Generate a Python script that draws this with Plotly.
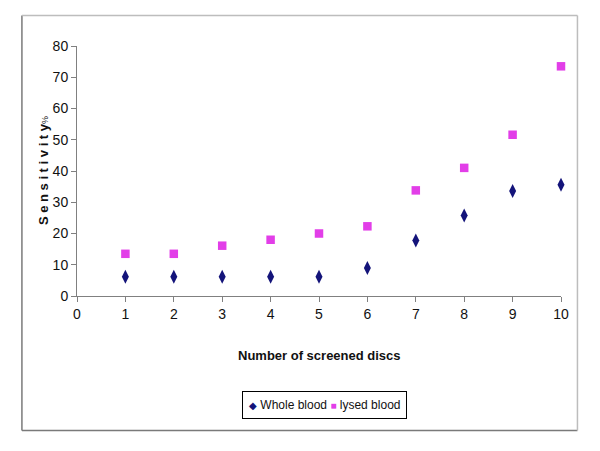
import plotly.graph_objects as go

discs = [1, 2, 3, 4, 5, 6, 7, 8, 9, 10]
whole_blood = [6.2, 6.2, 6.2, 6.2, 6.2, 9.0, 17.8, 25.8, 33.6, 35.6]
lysed_blood = [13.5, 13.5, 16.1, 18.0, 20.0, 22.3, 33.8, 41.0, 51.6, 73.5]
x_ticks = [0, 1, 2, 3, 4, 5, 6, 7, 8, 9, 10]
y_ticks = [0, 10, 20, 30, 40, 50, 60, 70, 80]

FONT = "Liberation Sans, Arial"
NAVY = "#14147a"
MAGENTA = "#e23ee8"

fig = go.Figure()
fig.add_trace(go.Scatter(
    x=discs, y=whole_blood, mode="markers", name="Whole blood",
    marker=dict(symbol="diamond-tall", size=10, color=NAVY),
    cliponaxis=False,
))
fig.add_trace(go.Scatter(
    x=discs, y=lysed_blood, mode="markers", name="lysed blood",
    marker=dict(symbol="square", size=8.5, color=MAGENTA),
    cliponaxis=False,
))

axis_common = dict(
    showgrid=False, zeroline=False, showline=True, linecolor="#808080", linewidth=1,
    ticks="outside", ticklen=5, tickcolor="#808080",
    tickfont=dict(family=FONT, size=14, color="#111111"),
)
fig.update_xaxes(range=[0, 10], tickvals=x_ticks, **axis_common)
fig.update_yaxes(range=[0, 80], tickvals=y_ticks, **axis_common)

fig.add_annotation(
    xref="paper", yref="paper", x=0.5, y=-0.238, xanchor="center", yanchor="middle",
    text="<b>Number of screened discs</b>", showarrow=False,
    font=dict(family=FONT, size=13, color="#111111"),
)
fig.add_annotation(
    xref="paper", yref="paper", x=-0.07, y=0.5, xanchor="center", yanchor="middle",
    text="<b>S e n s i t i v i t y</b><span style='font-size:9px'>%</span>",
    textangle=-90, showarrow=False,
    font=dict(family=FONT, size=13, color="#111111"),
)

# legend box drawn as a bordered annotation
fig.add_annotation(
    xref="paper", yref="paper", x=0.511, y=-0.434, xanchor="center", yanchor="middle",
    text=(f"<span style='color:{NAVY};font-size:10px'>◆</span> Whole blood "
          f"<span style='color:{MAGENTA};font-size:10px'>■</span> lysed blood"),
    showarrow=False, bordercolor="#000000", borderwidth=1, borderpad=6,
    bgcolor="white",
    font=dict(family=FONT, size=12, color="#111111"),
)

# outer chart frame
L, R, B, T = -0.1138, 1.034, -0.538, 1.122
fig.add_shape(type="line", xref="paper", yref="paper", x0=L, x1=L, y0=B, y1=T,
              line=dict(color="#7a7a7a", width=1.5))
fig.add_shape(type="line", xref="paper", yref="paper", x0=L, x1=R, y0=B, y1=B,
              line=dict(color="#7a7a7a", width=1.5))
fig.add_shape(type="line", xref="paper", yref="paper", x0=L, x1=R, y0=T, y1=T,
              line=dict(color="#bdbdbd", width=1.5))
fig.add_shape(type="line", xref="paper", yref="paper", x0=R, x1=R, y0=B, y1=T,
              line=dict(color="#bdbdbd", width=1.5))

fig.update_layout(
    width=600, height=451,
    margin=dict(l=69, r=47, t=38, b=163),
    paper_bgcolor="white", plot_bgcolor="white",
    showlegend=False,
)

fig.write_html("out.html")
